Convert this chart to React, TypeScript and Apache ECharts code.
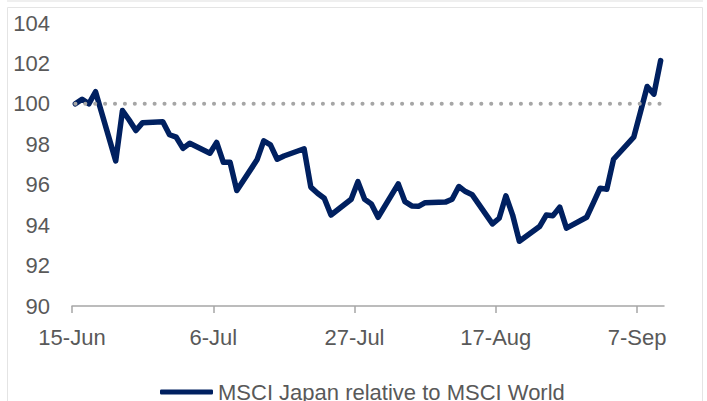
import React, { useEffect, useRef } from "react";
import * as echarts from "echarts";

const seriesName = "MSCI Japan relative to MSCI World";

const dates: string[] = [
  "2021-06-15", "2021-06-16", "2021-06-17", "2021-06-18", "2021-06-21", "2021-06-22", "2021-06-23", "2021-06-24", "2021-06-25",
  "2021-06-28", "2021-06-29", "2021-06-30", "2021-07-01", "2021-07-02",
  "2021-07-05", "2021-07-06", "2021-07-07", "2021-07-08", "2021-07-09",
  "2021-07-12", "2021-07-13", "2021-07-14", "2021-07-15", "2021-07-16",
  "2021-07-19", "2021-07-20", "2021-07-21", "2021-07-22", "2021-07-23",
  "2021-07-26", "2021-07-27", "2021-07-28", "2021-07-29", "2021-07-30",
  "2021-08-02", "2021-08-03", "2021-08-04", "2021-08-05", "2021-08-06",
  "2021-08-09", "2021-08-10", "2021-08-11", "2021-08-12", "2021-08-13",
  "2021-08-16", "2021-08-17", "2021-08-18", "2021-08-19", "2021-08-20",
  "2021-08-23", "2021-08-24", "2021-08-25", "2021-08-26", "2021-08-27",
  "2021-08-30", "2021-08-31", "2021-09-01", "2021-09-02", "2021-09-03",
  "2021-09-06", "2021-09-07", "2021-09-08", "2021-09-09", "2021-09-10",
];

const values: number[] = [
  100.0, 100.23, 100.0, 100.6, 97.18, 99.67, 99.2, 98.68, 99.07,
  99.12, 98.47, 98.35, 97.8, 98.05,
  97.56, 98.09, 97.11, 97.11, 95.71,
  97.23, 98.17, 97.97, 97.26, 97.42,
  97.78, 95.88, 95.58, 95.33, 94.5,
  95.28, 96.15, 95.28, 95.05, 94.39,
  96.04, 95.16, 94.95, 94.93, 95.11,
  95.14, 95.28, 95.91, 95.66, 95.5,
  94.06, 94.34, 95.45, 94.5, 93.2,
  93.93, 94.5, 94.47, 94.89, 93.85,
  94.39, 95.1, 95.83, 95.78, 97.26,
  98.35, 99.6, 100.86, 100.48, 102.14,
];

const referenceLevel = 100;

const tickDates: string[] = ["2021-06-15", "2021-07-06", "2021-07-27", "2021-08-17", "2021-09-07"];
const tickLabels: string[] = ["15-Jun", "6-Jul", "27-Jul", "17-Aug", "7-Sep"];
const axisEndDate = "2021-09-11";

const yMin = 90;
const yMax = 104;
const yStep = 2;

const DAY = 86400000;
const origin = Date.parse(tickDates[0]);
const dayOf = (d: string) => (Date.parse(d) - origin) / DAY;

const FONT = '"Liberation Sans", Arial, sans-serif';
const GREY = "#595959";

export default function App() {
  const ref = useRef<HTMLDivElement>(null);

  useEffect(() => {
    if (!ref.current) return;
    const chart = echarts.init(ref.current, undefined, { renderer: "svg" });

    const lineData = dates.map((d, i) => [dayOf(d) + 0.5, values[i]]);
    const refData = [dates[0], dates[dates.length - 1]].map((d) => [dayOf(d) + 0.5, referenceLevel]);
    const tickVals = tickDates.map(dayOf);

    chart.setOption({
      animation: false,
      textStyle: { fontFamily: FONT },
      graphic: [
        { type: "rect", shape: { x: 7, y: 0, width: 696, height: 2 }, style: { fill: "#efefef" }, silent: true },
        { type: "rect", shape: { x: 7.5, y: 7.5, width: 695, height: 400 }, style: { fill: "none", stroke: "#e4e4e4", lineWidth: 1 }, silent: true },
      ],
      grid: { left: 72, right: 43, top: 23, bottom: 95, containLabel: false },
      xAxis: {
        type: "value",
        min: 0,
        max: dayOf(axisEndDate),
        axisLine: { show: true, lineStyle: { color: "#a6a6a6", width: 1.5 } },
        axisTick: { show: true, length: 7, customValues: tickVals, lineStyle: { color: "#a6a6a6", width: 1.5 } },
        axisLabel: {
          customValues: tickVals,
          margin: 20,
          color: GREY,
          fontSize: 22,
          fontFamily: FONT,
          formatter: (v: number) => {
            const idx = tickVals.findIndex((t) => Math.abs(t - v) < 1e-6);
            return idx >= 0 ? tickLabels[idx] : "";
          },
        },
        splitLine: { show: false },
      },
      yAxis: {
        type: "value",
        min: yMin,
        max: yMax,
        interval: yStep,
        axisLine: { show: false },
        axisTick: { show: false },
        splitLine: { show: false },
        axisLabel: { color: GREY, fontSize: 22, margin: 22, fontFamily: FONT },
      },
      legend: {
        data: [seriesName],
        left: 155,
        top: 376,
        icon: "roundRect",
        itemWidth: 53,
        itemHeight: 5,
        itemStyle: { color: "#002060" },
        textStyle: { color: GREY, fontSize: 22, fontFamily: FONT },
      },
      series: [
        {
          name: seriesName,
          type: "line",
          data: lineData,
          showSymbol: false,
          symbol: "none",
          lineStyle: { color: "#002060", width: 5.5, cap: "round", join: "round" },
          itemStyle: { color: "#002060" },
          z: 2,
        },
        {
          name: "reference",
          type: "line",
          data: refData,
          showSymbol: false,
          symbol: "none",
          lineStyle: { color: "#a6a6a6", width: 4, type: [0.1, 9.8], cap: "round" },
          z: 3,
        },
      ],
    });

    return () => chart.dispose();
  }, []);

  return (
    <div
      ref={ref}
      style={{ position: "fixed", left: 0, top: 0, width: 707, height: 401, background: "#ffffff" }}
    />
  );
}
